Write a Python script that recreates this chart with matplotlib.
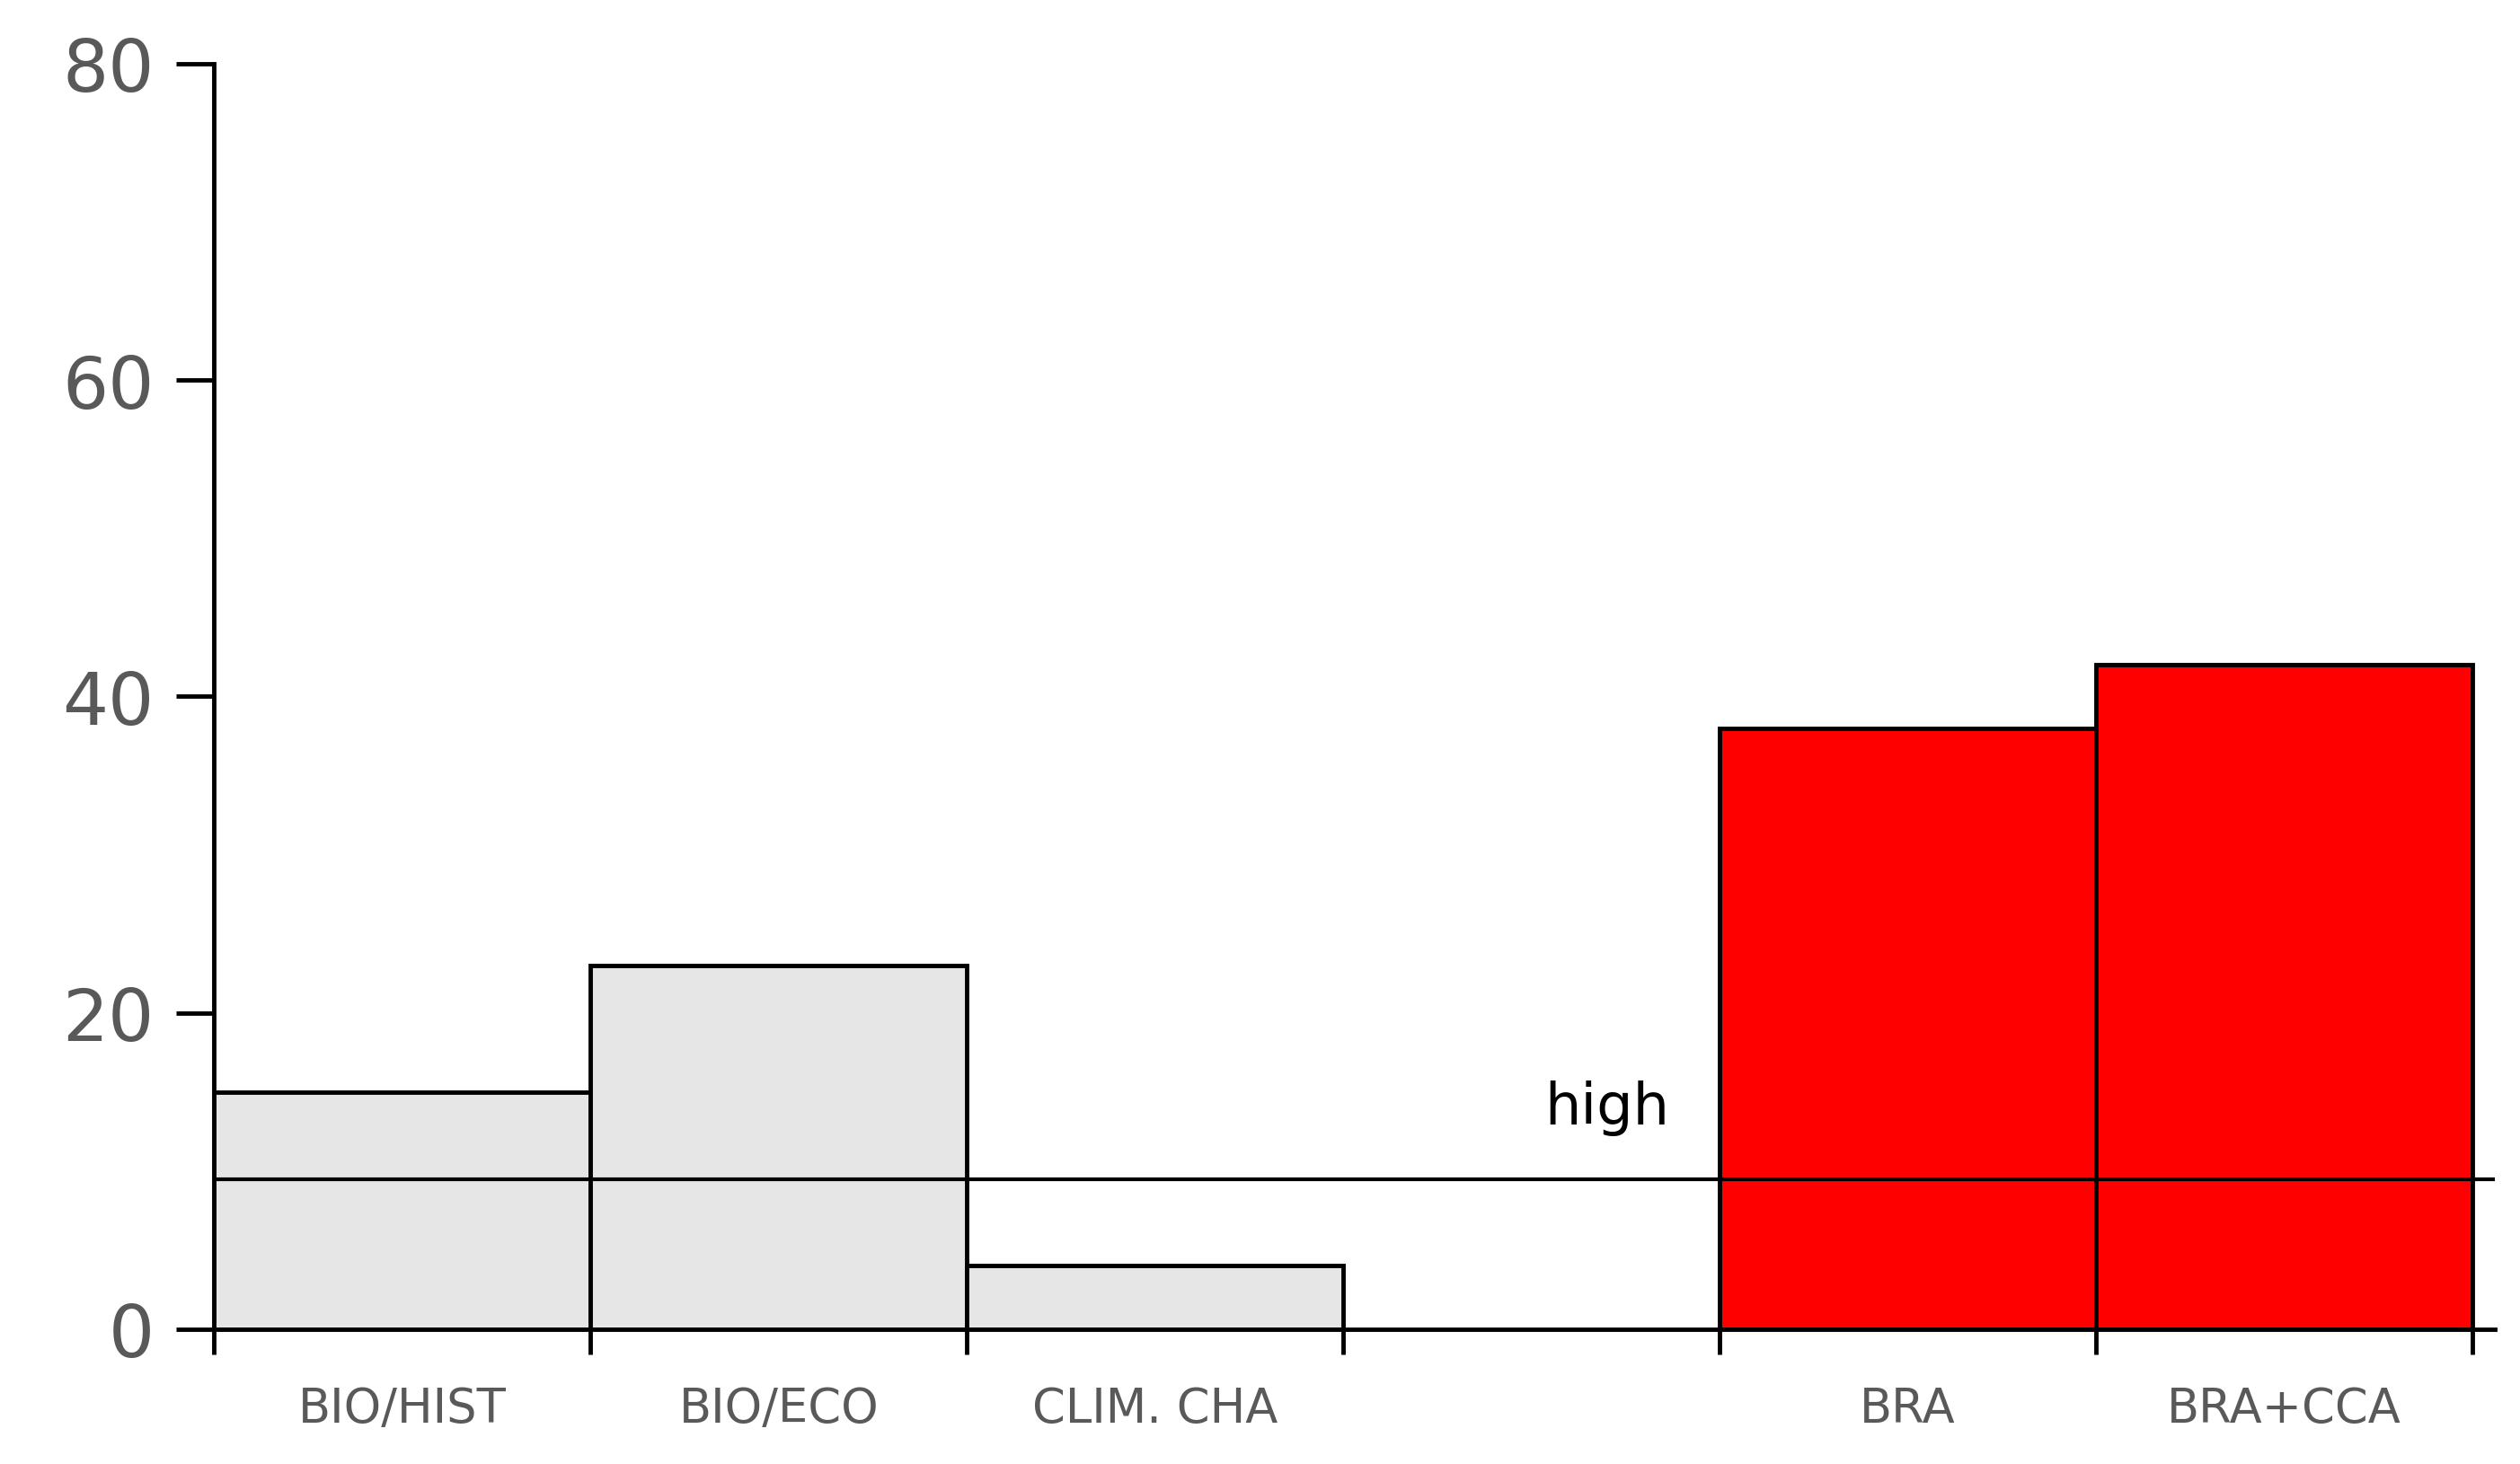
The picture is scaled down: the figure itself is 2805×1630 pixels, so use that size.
import matplotlib.pyplot as plt

categories = ["BIO/HIST", "BIO/ECO", "CLIM. CHA", "", "BRA", "BRA+CCA"]
values = [15, 23, 4, 0, 38, 42]
colors = ["#e6e6e6", "#e6e6e6", "#e6e6e6", "#e6e6e6", "#ff0000", "#ff0000"]
threshold = 9.5
threshold_label = "high"

fig = plt.figure(figsize=(28.05, 16.31), dpi=100)
ax = fig.add_axes([0.085, 0.092, 0.905, 0.864])

xs = [i + 0.5 for i in range(len(categories))]
for x, v, c in zip(xs, values, colors):
    if v > 0:
        ax.bar(x, v, width=1.0, color=c, edgecolor="black", linewidth=3.5)

ax.plot([0, 6.06], [threshold, threshold], color="black", linewidth=3)
ax.text(3.7, 14, threshold_label, fontsize=46, ha="center", va="center")

ax.set_xlim(0, 6.06)
ax.set_ylim(0, 80)
ax.set_yticks([0, 20, 40, 60, 80])
ax.set_xticks(range(7))
ax.set_xticklabels([])
for x, lab in zip(xs, categories):
    ax.text(x, -5, lab, fontsize=38, color="#595959", ha="center", va="center")

for s in ["top", "right"]:
    ax.spines[s].set_visible(False)
ax.spines["left"].set_linewidth(3.5)
ax.spines["bottom"].set_linewidth(3.5)
ax.tick_params(axis="y", labelsize=58, labelcolor="#595959", length=30, width=3.5, pad=18)
ax.tick_params(axis="x", length=20, width=3.5)

fig.savefig("out.png")
